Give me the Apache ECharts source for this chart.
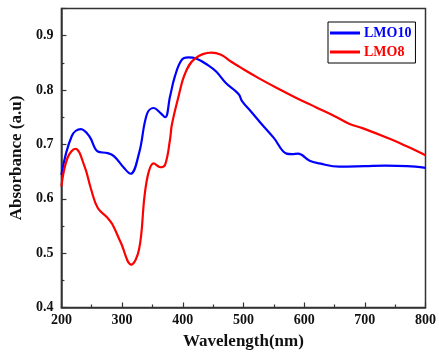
<!DOCTYPE html>
<html><head><meta charset="utf-8">
<script src="https://cdn.jsdelivr.net/npm/echarts@6/dist/echarts.min.js"></script>
<style>html,body{margin:0;padding:0;background:#fff}#c{width:439px;height:358px}</style>
</head><body><div id="c"></div>
<script>
var lmo10X = [200, 217, 232, 246, 260, 276, 287, 303, 314, 328, 341, 352, 363, 371, 379, 387, 398, 409, 422, 441, 455, 471, 487, 493, 498, 512, 528, 550, 571, 580, 590, 609, 625, 658, 700, 734, 770, 800];
var lmo10Y = [0.644, 0.715, 0.728, 0.715, 0.687, 0.684, 0.678, 0.657, 0.646, 0.684, 0.756, 0.767, 0.758, 0.750, 0.788, 0.825, 0.855, 0.860, 0.858, 0.846, 0.834, 0.813, 0.798, 0.791, 0.779, 0.761, 0.740, 0.712, 0.683, 0.682, 0.683, 0.670, 0.665, 0.659, 0.660, 0.661, 0.660, 0.657];
var lmo8X = [200, 210, 223, 238, 249, 260, 276, 284, 298, 315, 328, 337, 344, 352, 363, 371, 379, 382, 393, 404, 420, 447, 463, 480, 493, 525, 560, 588, 620, 652, 674, 696, 744, 770, 800];
var lmo8Y = [0.623, 0.675, 0.692, 0.660, 0.617, 0.583, 0.565, 0.553, 0.519, 0.479, 0.507, 0.605, 0.650, 0.665, 0.658, 0.663, 0.709, 0.736, 0.788, 0.831, 0.858, 0.869, 0.865, 0.852, 0.843, 0.822, 0.801, 0.785, 0.768, 0.751, 0.738, 0.730, 0.709, 0.696, 0.680];
var xTicks = [200, 300, 400, 500, 600, 700, 800];
var yTicks = [0.4, 0.5, 0.6, 0.7, 0.8, 0.9];

function zip(a, b) { return a.map(function (v, i) { return [v, b[i]]; }); }
var font = '"Liberation Serif", "Times New Roman", serif';
var chart = echarts.init(document.getElementById('c'), null, {renderer: 'canvas'});
chart.setOption({
  animation: false,
  grid: {left: 58, right: 11.5, top: 8.5, bottom: 50.5, show: true, borderColor: '#333', borderWidth: 1.5, backgroundColor: 'transparent'},
  legend: {
    left: 328, top: 22, orient: 'vertical', itemGap: 5, itemWidth: 30, itemHeight: 3,
    padding: [4, 4, 4, 2], borderColor: '#000', borderWidth: 1, backgroundColor: '#fff',
    data: [
      {name: 'LMO10', icon: 'rect', textStyle: {color: '#0000ff'}},
      {name: 'LMO8', icon: 'rect', textStyle: {color: '#ff0000'}}
    ],
    textStyle: {fontFamily: font, fontWeight: 'bold', fontSize: 14, padding: [0, 0, 0, -1]}
  },
  xAxis: {
    type: 'value', min: 200, max: 800, interval: 100,
    name: 'Wavelength(nm)', nameLocation: 'middle', nameGap: 26,
    nameTextStyle: {fontFamily: font, fontWeight: 'bold', fontSize: 17, color: '#111'},
    axisLine: {lineStyle: {color: '#333', width: 1.5}},
    axisTick: {inside: true, length: 5, lineStyle: {color: '#333', width: 1.2}},
    minorTick: {show: true, splitNumber: 2, length: 3, lineStyle: {color: '#333', width: 1.2}},
    axisLabel: {fontFamily: font, fontWeight: 'bold', fontSize: 14, color: '#111', margin: 6,
      formatter: function (v) { return xTicks.indexOf(v) >= 0 ? String(v) : ''; }},
    splitLine: {show: false}
  },
  yAxis: {
    type: 'value', min: 0.4, max: 0.95, interval: 0.1,
    name: 'Absorbance (a.u)', nameLocation: 'middle', nameGap: 30,
    nameTextStyle: {fontFamily: font, fontWeight: 'bold', fontSize: 17, color: '#111'},
    axisLine: {lineStyle: {color: '#333', width: 1.5}},
    axisTick: {inside: true, length: 5, lineStyle: {color: '#333', width: 1.2}},
    minorTick: {show: true, splitNumber: 2, length: 3, lineStyle: {color: '#333', width: 1.2}},
    axisLabel: {fontFamily: font, fontWeight: 'bold', fontSize: 14, color: '#111', margin: 8,
      formatter: function (v) {
        for (var i = 0; i < yTicks.length; i++) if (Math.abs(yTicks[i] - v) < 1e-6) return yTicks[i].toFixed(1);
        return '';
      }},
    splitLine: {show: false}
  },
  series: [
    {name: 'LMO10', type: 'line', data: zip(lmo10X, lmo10Y), smooth: 0.4, showSymbol: false,
      lineStyle: {color: '#0000ff', width: 2.2}, itemStyle: {color: '#0000ff'}},
    {name: 'LMO8', type: 'line', data: zip(lmo8X, lmo8Y), smooth: 0.4, showSymbol: false,
      lineStyle: {color: '#ff0000', width: 2.2}, itemStyle: {color: '#ff0000'}}
  ]
});
</script>
</body></html>
